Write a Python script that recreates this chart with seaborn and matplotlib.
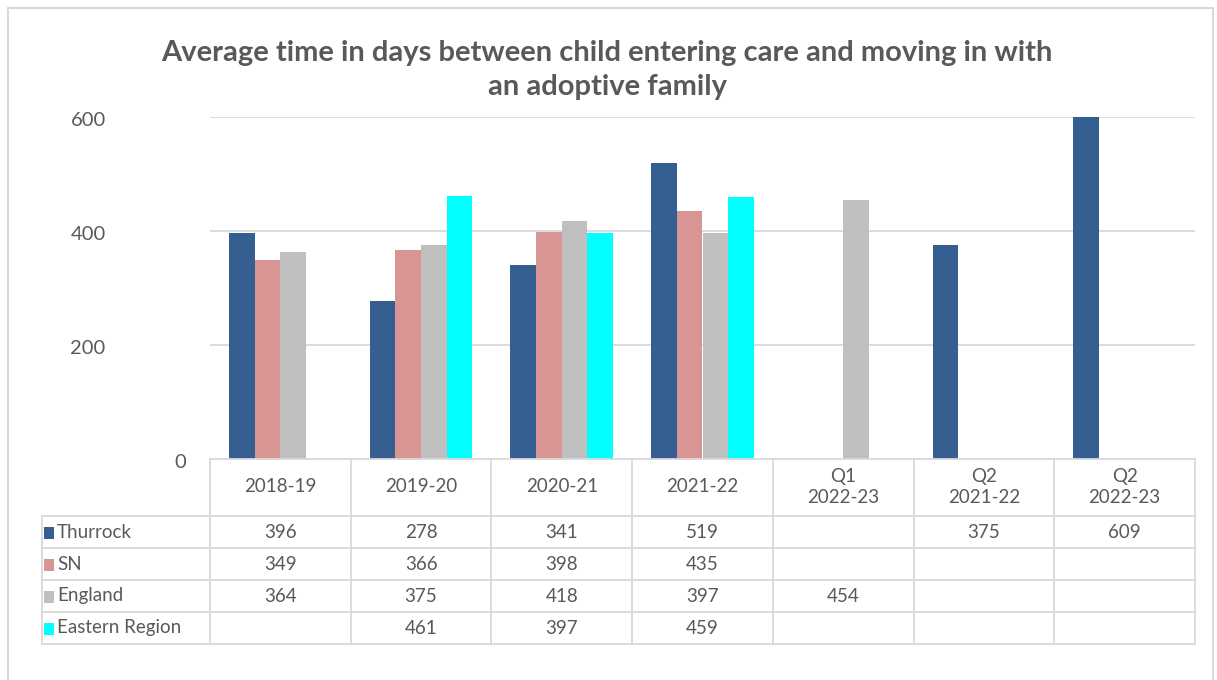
import matplotlib
matplotlib.use("Agg")
import matplotlib.pyplot as plt
import seaborn as sns
import numpy as np
import pandas as pd
from matplotlib.patches import Rectangle

categories = ["2018-19", "2019-20", "2020-21", "2021-22", "Q1\n2022-23", "Q2\n2021-22", "Q2\n2022-23"]
series = ["Thurrock", "SN", "England", "Eastern Region"]
thurrock = [396, 278, 341, 519, np.nan, 375, 609]
sn = [349, 366, 398, 435, np.nan, np.nan, np.nan]
england = [364, 375, 418, 397, 454, np.nan, np.nan]
eastern = [np.nan, 461, 397, 459, np.nan, np.nan, np.nan]
yticks = [0, 200, 400, 600]
colors = ["#365F91", "#D99594", "#BFBFBF", "#00FFFF"]
title = "Average time in days between child entering care and moving in with\nan adoptive family"

values = [thurrock, sn, england, eastern]
rows = []
for s, vals in zip(series, values):
    for c, v in zip(categories, vals):
        rows.append({"cat": c, "series": s, "val": v})
df = pd.DataFrame(rows)

sns.set_style("white")
plt.rcParams["font.family"] = ["Lato", "DejaVu Sans"]
TXT = "#595959"
GRID = "#D9D9D9"

W, H = 1217, 680
fig = plt.figure(figsize=(W / 100, H / 100), dpi=100)
ax_l, ax_r, ax_t, ax_b = 210, 1195, 117, 459
ax = fig.add_axes([ax_l / W, 1 - ax_b / H, (ax_r - ax_l) / W, (ax_b - ax_t) / H])

sns.barplot(data=df, x="cat", y="val", hue="series", order=categories, hue_order=series,
            palette=colors, width=0.73, saturation=1, legend=False, ax=ax, errorbar=None,
            linewidth=0)
ax.set_xlim(-0.5, len(categories) - 0.5)
ax.set_ylim(0, 600)
ax.set_xlabel("")
ax.set_ylabel("")
ax.set_xticks([])
ax.set_yticks([])
for sp in ax.spines.values():
    sp.set_visible(False)
for t in yticks[1:]:
    ax.axhline(t, color=GRID, lw=1.3, zorder=0)

def fx(px):
    return px / W

def fy(py):
    return 1 - py / H

# y tick labels
for t in yticks:
    yp = ax_b - (ax_b - ax_t) * t / 600
    xp = 180 if t == 0 else 88
    fig.text(fx(xp), fy(yp + 3), str(t), ha="center", va="center", fontsize=14.5, color=TXT)

# title
fig.text(fx(607), fy(70), title, ha="center", va="center", fontsize=21, fontweight="bold",
         color=TXT, linespacing=1.35)

# outer border
fig.add_artist(plt.Line2D([fx(8), fx(8)], [fy(8), 0], color=GRID, lw=1.5))
fig.add_artist(plt.Line2D([fx(8), fx(1213)], [fy(8), fy(8)], color=GRID, lw=1.5))
fig.add_artist(plt.Line2D([fx(1213), fx(1213)], [fy(8), 0], color=GRID, lw=1.5))

# data table
ncat = len(categories)
colw = (ax_r - ax_l) / ncat
col_x = [ax_l + i * colw for i in range(ncat + 1)]
left_x = 42
row_y = [459, 516, 548, 580, 612, 644]
lw = 1.3
fig.add_artist(plt.Line2D([fx(ax_l), fx(ax_r)], [fy(459), fy(459)], color=GRID, lw=lw))
for yy in row_y[1:]:
    fig.add_artist(plt.Line2D([fx(left_x), fx(ax_r)], [fy(yy), fy(yy)], color=GRID, lw=lw))
for xx in col_x:
    fig.add_artist(plt.Line2D([fx(xx), fx(xx)], [fy(459), fy(644)], color=GRID, lw=lw))
fig.add_artist(plt.Line2D([fx(left_x), fx(left_x)], [fy(516), fy(644)], color=GRID, lw=lw))

for i, c in enumerate(categories):
    cx = (col_x[i] + col_x[i + 1]) / 2
    fig.text(fx(cx), fy(487), c, ha="center", va="center", fontsize=13.5, color=TXT, linespacing=1.25)

for r, (s, vals, col) in enumerate(zip(series, values, colors)):
    yc = (row_y[r + 1] + row_y[r + 2]) / 2
    fig.add_artist(Rectangle((fx(44), fy(yc + 7)), 10 / W, 12 / H, transform=fig.transFigure,
                             facecolor=col, edgecolor="none"))
    fig.text(fx(57), fy(yc), s, ha="left", va="center", fontsize=13.5, color=TXT)
    for i, v in enumerate(vals):
        if not np.isnan(v):
            cx = (col_x[i] + col_x[i + 1]) / 2
            fig.text(fx(cx), fy(yc), f"{int(v)}", ha="center", va="center", fontsize=13.5, color=TXT)

fig.savefig("out.png", dpi=100)
